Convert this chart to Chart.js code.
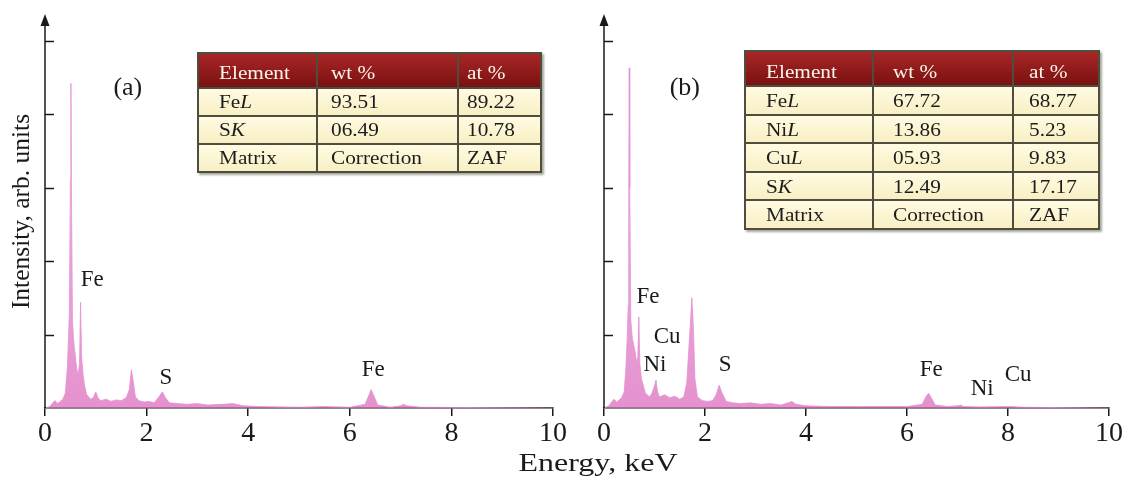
<!DOCTYPE html>
<html>
<head>
<meta charset="utf-8">
<script src="https://cdn.jsdelivr.net/npm/chart.js@4.4.1/dist/chart.umd.min.js"></script>
<style>
  html, body { margin: 0; padding: 0; background: #fff; overflow: hidden; }
  #wrap { position: relative; width: 1122px; height: 477px; overflow: hidden; }
  canvas { position: absolute; top: 0; }
  #chartA { left: 0; }
  #chartB { left: 555px; }
  .tbl { position: absolute; border-collapse: collapse; table-layout: fixed;
         font-family: 'Liberation Serif', 'Times New Roman', serif; font-size: 19px; color: #1c1c1c;
         box-shadow: 2px 2px 2px rgba(60, 60, 40, 0.45); }
  .tbl td { border: 2px solid #4f4d3e; padding: 0; white-space: nowrap; line-height: 1;
            background: linear-gradient(#fffbe2, #f8efc4); }
  .tbl tr.head td { background: linear-gradient(#a82626, #7a1111); color: #fbf4ea; padding-top: 5px; }
  .tbl span { display: inline-block; transform: scaleX(1.12); transform-origin: 0 50%; }
  #xtitle { position: absolute; left: 598px; top: 450px; font-family: 'Liberation Serif', serif;
            font-size: 26px; line-height: 26px; color: #1a1a1a; white-space: nowrap;
            transform: translateX(-50%) scaleX(1.23); }
</style>
</head>
<body>
<div id="wrap">
  <canvas id="chartA" width="575" height="477"></canvas>
  <canvas id="chartB" width="580" height="477"></canvas>
  <table id="tableA" class="tbl"></table>
  <table id="tableB" class="tbl"></table>
  <div id="xtitle">Energy, keV</div>
</div>
<script>
// spectrum (a): Fe + S
const energyA = [0, 0.10, 0.15, 0.20, 0.25, 0.30, 0.35, 0.40, 0.44, 0.46, 0.48, 0.50, 0.51, 0.52, 0.54, 0.56,
  0.58, 0.60, 0.62, 0.65, 0.68, 0.70, 0.72, 0.75, 0.78, 0.82, 0.90, 0.95, 1.00, 1.04, 1.10, 1.20, 1.30, 1.40,
  1.50, 1.60, 1.66, 1.70, 1.74, 1.78, 1.85, 1.95, 2.05, 2.15, 2.25, 2.31, 2.37, 2.45, 2.60, 2.80, 3.00, 3.20,
  3.50, 3.70, 3.90, 4.20, 5.00, 5.50, 6.00, 6.30, 6.38, 6.42, 6.47, 6.55, 6.80, 7.00, 7.06, 7.12, 7.40, 10];
const countsA = [0, 0.02, 0.07, 0.10, 0.06, 0.09, 0.12, 0.20, 0.55, 0.90, 1.30, 3.10, 4.42, 3.05, 1.20, 0.95,
  0.80, 0.70, 0.55, 0.45, 0.60, 1.44, 0.70, 0.45, 0.30, 0.18, 0.12, 0.14, 0.22, 0.14, 0.10, 0.12, 0.09, 0.11,
  0.10, 0.14, 0.25, 0.52, 0.35, 0.15, 0.10, 0.08, 0.09, 0.07, 0.16, 0.22, 0.14, 0.07, 0.06, 0.05, 0.06, 0.04,
  0.05, 0.06, 0.03, 0.02, 0.01, 0.02, 0.01, 0.05, 0.18, 0.25, 0.17, 0.04, 0.01, 0.03, 0.05, 0.03, 0.01, 0];

// spectrum (b): Fe + Ni + Cu + S
const energyB = [0, 0.10, 0.15, 0.20, 0.25, 0.30, 0.35, 0.40, 0.43, 0.46, 0.48, 0.49, 0.50, 0.51, 0.53, 0.56,
  0.59, 0.62, 0.65, 0.67, 0.69, 0.71, 0.74, 0.78, 0.82, 0.86, 0.90, 0.95, 1.00, 1.03, 1.06, 1.10, 1.20, 1.30,
  1.40, 1.50, 1.58, 1.64, 1.68, 1.71, 1.74, 1.77, 1.80, 1.85, 1.95, 2.05, 2.15, 2.22, 2.28, 2.34, 2.42, 2.55,
  2.70, 2.90, 3.10, 3.30, 3.50, 3.65, 3.72, 3.80, 4.00, 4.50, 5.00, 5.50, 6.00, 6.30, 6.38, 6.43, 6.48, 6.56,
  6.80, 7.00, 7.06, 7.12, 7.45, 8.05, 8.30, 10];
const countsB = [0, 0.03, 0.08, 0.12, 0.08, 0.11, 0.14, 0.22, 0.50, 0.95, 1.40, 3.00, 4.63, 3.00, 1.20, 0.95,
  0.85, 0.75, 0.60, 0.70, 1.24, 0.60, 0.40, 0.30, 0.20, 0.18, 0.15, 0.20, 0.30, 0.38, 0.22, 0.15, 0.18, 0.14,
  0.16, 0.12, 0.15, 0.35, 0.80, 1.15, 1.50, 1.10, 0.40, 0.15, 0.10, 0.09, 0.10, 0.18, 0.31, 0.20, 0.09, 0.07,
  0.06, 0.07, 0.05, 0.06, 0.04, 0.07, 0.09, 0.05, 0.03, 0.02, 0.02, 0.02, 0.02, 0.05, 0.16, 0.20, 0.14, 0.04,
  0.02, 0.03, 0.04, 0.02, 0.015, 0.02, 0.01, 0];

// peak labels (energy, keV / intensity level)
const peakNamesA = ['Fe', 'S', 'Fe'];
const peakEnergyA = [0.93, 2.38, 6.46];
const peakLevelA = [1.74, 0.41, 0.52];
const peakNamesB = ['Fe', 'Cu', 'Ni', 'S', 'Fe', 'Ni', 'Cu'];
const peakEnergyB = [0.87, 1.25, 1.01, 2.40, 6.48, 7.49, 8.20];
const peakLevelB = [1.51, 0.97, 0.59, 0.59, 0.52, 0.26, 0.45];

const panelTags = ['(a)', '(b)'];
const tagEnergy = [1.63, 1.60];
const tagLevel = [4.35, 4.35];

const energyTicks = [0, 2, 4, 6, 8, 10];
const intensityTicks = [1, 2, 3, 4, 5];

// composition tables
const tableHead = ['Element', 'wt %', 'at %'];
const elementsA = ['Fe', 'S', 'Matrix'];
const linesA = ['L', 'K', ''];
const wtA = ['93.51', '06.49', 'Correction'];
const atA = ['89.22', '10.78', 'ZAF'];
const elementsB = ['Fe', 'Ni', 'Cu', 'S', 'Matrix'];
const linesB = ['L', 'L', 'L', 'K', ''];
const wtB = ['67.72', '13.86', '05.93', '12.49', 'Correction'];
const atB = ['68.77', '5.23', '9.83', '17.17', 'ZAF'];

const ink = '#1a1a1a';
const serif = "'Liberation Serif', 'Times New Roman', serif";

function buildTable(id, elements, lines, wt, at, box, colW, padL) {
    const t = document.getElementById(id);
    t.style.left = box[0] + 'px';
    t.style.top = box[1] + 'px';
    t.style.width = box[2] + 'px';
    t.style.height = box[3] + 'px';
    const cg = document.createElement('colgroup');
    colW.forEach(w => {
        const c = document.createElement('col');
        c.style.width = w + 'px';
        cg.appendChild(c);
    });
    t.appendChild(cg);
    const rows = [tableHead.map(h => h)];
    elements.forEach((e, i) => {
        const name = lines[i] ? e + '<i>' + lines[i] + '</i>' : e;
        rows.push([name, wt[i], at[i]]);
    });
    rows.forEach((r, ri) => {
        const tr = document.createElement('tr');
        if (ri === 0) tr.className = 'head';
        r.forEach((txt, ci) => {
            const td = document.createElement('td');
            td.style.paddingLeft = padL[ci] + 'px';
            td.innerHTML = '<span>' + txt + '</span>';
            tr.appendChild(td);
        });
        t.appendChild(tr);
    });
}

buildTable('tableA', elementsA, linesA, wtA, atA, [197, 52, 343, 121], [119, 141, 83], [20, 13, 8]);
buildTable('tableB', elementsB, linesB, wtB, atB, [744, 50, 354, 180], [128, 140, 86], [20, 19, 15]);

function spectrumFill(context) {
    const chart = context.chart;
    const a = chart.chartArea;
    if (!a) return 'rgba(225,130,200,0.7)';
    const g = chart.ctx.createLinearGradient(0, a.bottom, 0, a.top);
    g.addColorStop(0, 'rgba(222,118,194,0.8)');
    g.addColorStop(0.4, 'rgba(228,135,204,0.75)');
    g.addColorStop(0.6, 'rgba(238,172,224,0.65)');
    g.addColorStop(1, 'rgba(246,208,240,0.65)');
    return g;
}

function decor(names, ex, ey, tag, tx, ty) {
    return {
        id: 'decor',
        afterDatasetsDraw(chart) {
            const { ctx, chartArea: a, scales: { x, y } } = chart;
            ctx.save();
            ctx.strokeStyle = ink;
            ctx.fillStyle = ink;
            ctx.lineWidth = 1.5;
            ctx.beginPath();
            ctx.moveTo(a.left, a.bottom);
            ctx.lineTo(a.left, a.top + 4);
            ctx.stroke();
            // arrow head
            ctx.beginPath();
            ctx.moveTo(a.left, a.top - 1);
            ctx.lineTo(a.left - 4.5, a.top + 11);
            ctx.lineTo(a.left + 4.5, a.top + 11);
            ctx.closePath();
            ctx.fill();
            // inward ticks
            intensityTicks.forEach(v => {
                const py = Math.round(y.getPixelForValue(v)) + 0.5;
                ctx.beginPath();
                ctx.moveTo(a.left, py);
                ctx.lineTo(a.left + 9, py);
                ctx.stroke();
            });
            ctx.textAlign = 'center';
            ctx.textBaseline = 'middle';
            ctx.font = '23px ' + serif;
            names.forEach((n, i) => {
                ctx.fillText(n, x.getPixelForValue(ex[i]), y.getPixelForValue(ey[i]));
            });
            ctx.font = '26px ' + serif;
            ctx.fillText(tag, x.getPixelForValue(tx), y.getPixelForValue(ty));
            ctx.restore();
        }
    };
}

function makeSpectrum(id, energy, counts, names, ex, ey, tag, tx, ty, padRight, yWidth, showTitle) {
    const data = energy.map((e, i) => ({ x: e, y: counts[i] }));
    return new Chart(document.getElementById(id), {
        type: 'line',
        data: {
            datasets: [{
                data: data,
                fill: 'origin',
                backgroundColor: spectrumFill,
                borderColor: 'rgba(228,145,210,0.8)',
                borderWidth: 1,
                pointRadius: 0,
                tension: 0
            }]
        },
        options: {
            responsive: false,
            animation: false,
            devicePixelRatio: 1,
            layout: { padding: { left: 0, right: padRight, top: 15, bottom: 0 } },
            plugins: { legend: { display: false }, tooltip: { enabled: false } },
            scales: {
                x: {
                    type: 'linear',
                    min: 0,
                    max: 10,
                    afterBuildTicks: s => { s.ticks = energyTicks.map(v => ({ value: v })); },
                    afterFit: s => { s.height = 69; },
                    ticks: { font: { family: serif, size: 28 }, color: ink, padding: 1, maxRotation: 0 },
                    grid: { drawOnChartArea: false, drawTicks: true, tickLength: 8, color: ink, lineWidth: 1.5 },
                    border: { display: true, color: ink, width: 1.5 }
                },
                y: {
                    min: 0,
                    max: 5.35,
                    afterBuildTicks: s => { s.ticks = intensityTicks.map(v => ({ value: v })); },
                    afterFit: s => { s.width = yWidth; },
                    ticks: { display: false },
                    grid: { display: false },
                    border: { display: false },
                    title: {
                        display: showTitle,
                        text: 'Intensity, arb. units',
                        font: { family: serif, size: 25.5 },
                        color: ink,
                        padding: { top: 7, bottom: 0 }
                    }
                }
            }
        },
        plugins: [decor(names, ex, ey, tag, tx, ty)]
    });
}

makeSpectrum('chartA', energyA, countsA, peakNamesA, peakEnergyA, peakLevelA,
    panelTags[0], tagEnergy[0], tagLevel[0], 22, 45, true);
makeSpectrum('chartB', energyB, countsB, peakNamesB, peakEnergyB, peakLevelB,
    panelTags[1], tagEnergy[1], tagLevel[1], 26, 49, false);
</script>
</body>
</html>
